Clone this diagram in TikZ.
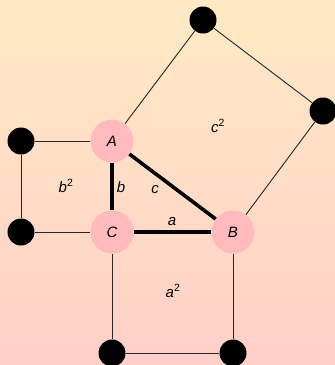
\documentclass[tikz,border=0pt]{standalone}
\usepackage{fontspec}
\setmainfont{Liberation Sans}
\definecolor{bgtop}{RGB}{255,234,196}
\definecolor{bgbot}{RGB}{255,207,200}
\definecolor{vpink}{RGB}{255,186,190}
\begin{document}
\begin{tikzpicture}[x=1pt,y=-1pt,
  vert/.style={circle,fill=vpink,minimum size=43pt,inner sep=0pt,font=\fontsize{15}{18}\selectfont\itshape},
  dot/.style={circle,fill=black,minimum size=27pt,inner sep=0pt},
  thin edge/.style={draw=black!85,line width=0.9pt},
  side/.style={draw=black,line width=3.6pt},
  lab/.style={font=\fontsize{15}{18}\selectfont\itshape,inner sep=0pt}]
\shade[top color=bgtop,bottom color=bgbot] (0,0) rectangle (335,365);
\useasboundingbox (0,0) rectangle (335,365);
\node[vert] (A) at (112,141) {A};
\node[vert] (C) at (112,232) {C};
\node[vert] (B) at (233,232) {B};
\node[dot] (P1) at (203,20) {};
\node[dot] (P2) at (323,111) {};
\node[dot] (Q1) at (21,141) {};
\node[dot] (Q2) at (21,232) {};
\node[dot] (R1) at (112,353) {};
\node[dot] (R2) at (233,353) {};
\draw[thin edge] (A) -- (P1) -- (P2) -- (B);
\draw[thin edge] (A) -- (Q1) -- (Q2) -- (C);
\draw[thin edge] (C) -- (R1) -- (R2) -- (B);
\draw[side] (A) -- (C);
\draw[side] (C) -- (B);
\draw[side] (A) -- (B);
\node[lab] (la) at (172,222) {a};
\node[lab] (lb) at (121,187) {b};
\node[lab] (lc) at (155,190) {c};
\node[lab] (lb2) at (66,186) {b\textsuperscript{\upshape 2}};
\node[lab] (lc2) at (218,126) {c\textsuperscript{\upshape 2}};
\node[lab] (la2) at (173,291) {a\textsuperscript{\upshape 2}};
\end{tikzpicture}
\end{document}
